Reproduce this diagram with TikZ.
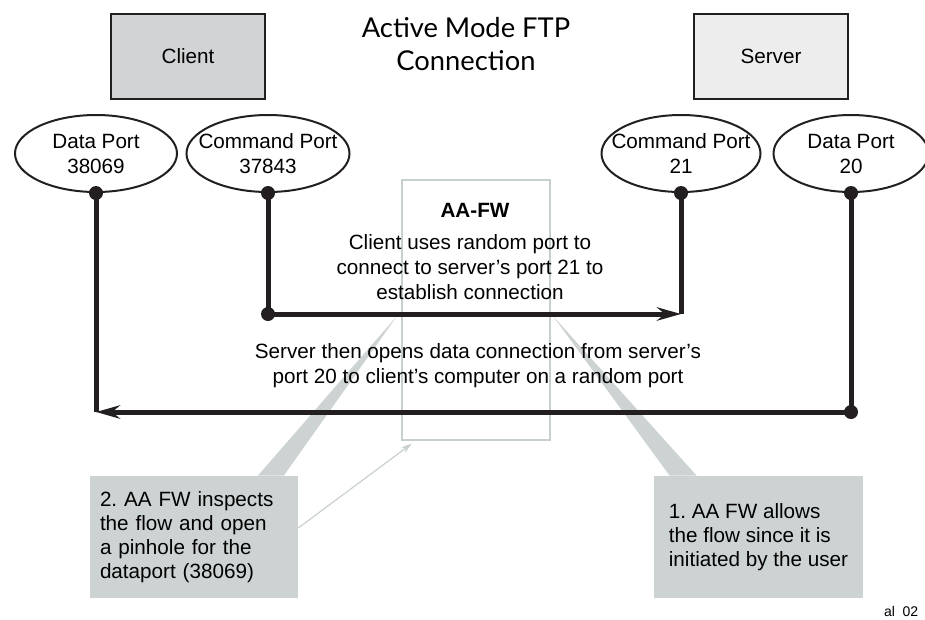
\documentclass[tikz,border=0pt]{standalone}
\usepackage{fontspec}
\setmainfont{Liberation Sans}
\newfontfamily\titlefont{Lato}
\usetikzlibrary{shapes.geometric, arrows.meta, calc}
\definecolor{ink}{HTML}{231F20}
\definecolor{clientgray}{HTML}{D1D3D4}
\definecolor{servergray}{HTML}{EDEDED}
\definecolor{notegray}{HTML}{CDD3D3}
\definecolor{fwgray}{HTML}{C8CFCF}
\frenchspacing
\tikzstyle{hostbox} = [rectangle, minimum width=115.5pt, minimum height=63.75pt, text centered, draw=ink, line width=1.5pt]
\tikzstyle{port} = [ellipse, minimum width=121.5pt, minimum height=57.75pt, inner xsep=-12pt, inner ysep=0pt, align=center, draw=ink, line width=1.5pt, fill=white]
\tikzstyle{note} = [rectangle, fill=notegray, align=left, minimum height=91.5pt, font=\fontsize{15.5}{18}\selectfont]
\tikzstyle{fwbox} = [rectangle, minimum width=111pt, minimum height=195pt, draw=fwgray, line width=1.5pt]
\tikzstyle{wire} = [line width=3.75pt, draw=ink]
\tikzstyle{arrow} = [-{Stealth[length=18pt,width=10pt,inset=6pt]}]
\tikzstyle{pointer} = [line width=0.9pt, draw=fwgray, -{Stealth[length=8pt,width=5pt]}]
\tikzstyle{dot} = [circle, fill=ink, inner sep=0pt, minimum size=10.5pt]

\begin{document}
\begin{tikzpicture}[x=0.75pt, y=-0.75pt, font=\fontsize{15.5}{18.75}\selectfont]
\useasboundingbox (0,0) rectangle (925,619);
\node (note2) [note, text width=141pt, inner xsep=7.5pt] at (194,537) {2. AA FW inspects\\the flow and open\\a pinhole for the\\dataport (38069)};
\node (note1) [note, minimum width=156.75pt] at (758.5,537) {1. AA FW allows\\the flow since it is\\initiated by the user};
\coordinate (tip2) at (397,316);
\coordinate (tip1) at (553,316);
\fill [notegray] (tip2) -- ($(note2.north west)+(168,0)$) -- ($(note2.north west)+(194,0)$) -- cycle;
\fill [notegray] (tip1) -- ($(note1.north west)+(16,0)$) -- ($(note1.north west)+(43,0)$) -- cycle;
\node (fw) [fwbox] at (476,310) {};
\node (fwname) at (475,210) {\bfseries AA-FW};
\draw [pointer] ([yshift=6.75pt]note2.east) -- ([xshift=8pt,yshift=-2pt]fw.south west);
\node (title) [align=center, font=\titlefont\fontsize{20.5}{24.75}\selectfont] at (466,44) {Active Mode FTP\\Connection};
\node (client) [hostbox, fill=clientgray] at (188,56.5) {Client};
\node (server) [hostbox, fill=servergray] at (771,56.5) {Server};
\node (dp1) [port] at (96,153.5) {Data Port\\38069};
\node (cp1) [port, minimum width=122.25pt] at (268,153.5) {Command Port\\37843};
\node (cp2) [port, minimum width=119.25pt] at (681,153.5) {Command Port\\21};
\node (dp2) [port, minimum width=116.25pt] at (851,153.5) {Data Port\\20};
\coordinate (cmdbend) at (cp1.south |- 0,314);
\coordinate (cmdend) at (cp2.south |- 0,314);
\coordinate (databend) at (dp2.south |- 0,412);
\coordinate (dataend) at (dp1.south |- 0,412);
\draw [wire] (cp1.south) -- (cmdbend);
\draw [wire, arrow] (cmdbend) -- (cmdend);
\draw [wire] (cp2.south) -- (cmdend);
\draw [wire] (dp2.south) -- (databend);
\draw [wire, arrow] (databend) -- (dataend);
\draw [wire] (dp1.south) -- (dataend);
\node (d1) [dot] at (dp1.south) {};
\node (d2) [dot] at (cp1.south) {};
\node (d3) [dot] at (cp2.south) {};
\node (d4) [dot] at (dp2.south) {};
\node (d5) [dot] at (cmdbend) {};
\node (d6) [dot] at (databend) {};
\node (cmdtext) [align=center] at (470,267) {Client uses random port to\\connect to server’s port 21 to\\establish connection};
\node (datatext) [align=center] at (478,366) {Server then opens data connection from server’s\\port 20 to client’s computer on a random port};
\node (tag) [font=\fontsize{10.5}{12}\selectfont, anchor=east] at (923,611) {al~~02};
\end{tikzpicture}
\end{document}
